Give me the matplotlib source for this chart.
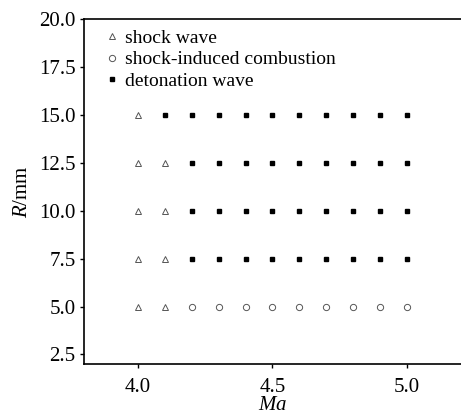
import numpy as np
import matplotlib
matplotlib.use('Agg')
import matplotlib.pyplot as plt

plt.rcParams['font.family'] = ['Liberation Serif', 'DejaVu Serif']
plt.rcParams['mathtext.fontset'] = 'custom'
plt.rcParams['mathtext.it'] = 'Liberation Serif:italic'
plt.rcParams['mathtext.rm'] = 'Liberation Serif'

# data
ma_shock = [4.0, 4.0, 4.0, 4.0, 4.0, 4.1, 4.1, 4.1, 4.1]
r_shock = [5.0, 7.5, 10.0, 12.5, 15.0, 5.0, 7.5, 10.0, 12.5]

ma_comb = [4.2, 4.3, 4.4, 4.5, 4.6, 4.7, 4.8, 4.9, 5.0]
r_comb = [5.0] * 9

ma_det_cols = [4.1, 4.2, 4.3, 4.4, 4.5, 4.6, 4.7, 4.8, 4.9, 5.0]
ma_det = [4.1]
r_det = [15.0]
for m in ma_det_cols[1:]:
    for r in [7.5, 10.0, 12.5, 15.0]:
        ma_det.append(m)
        r_det.append(r)

xticks = [4.0, 4.5, 5.0]
yticks = [2.5, 5.0, 7.5, 10.0, 12.5, 15.0, 17.5, 20.0]

fig = plt.figure(figsize=(4.61, 4.17), dpi=100)
ax = fig.add_axes([0.182, 0.127, 0.818, 0.827])

ax.plot(ma_shock, r_shock, linestyle='none', marker='^', markersize=5,
        markerfacecolor='none', markeredgecolor='#555555', markeredgewidth=0.7,
        label='shock wave')
ax.plot(ma_comb, r_comb, linestyle='none', marker='o', markersize=4.5,
        markerfacecolor='none', markeredgecolor='#555555', markeredgewidth=0.7,
        label='shock-induced combustion')
ax.plot(ma_det, r_det, linestyle='none', marker='s', markersize=3.5,
        color='black', label='detonation wave')

ax.set_xlim(3.8, 5.2)
ax.set_ylim(2.0, 20.0)
ax.set_xticks(xticks)
ax.set_xticklabels(['%.1f' % t for t in xticks])
ax.set_yticks(yticks)
ax.set_yticklabels(['%.1f' % t for t in yticks])
ax.tick_params(labelsize=15, direction='out', length=3, width=1)
ax.tick_params(axis='x', pad=7)
ax.tick_params(axis='y', pad=3)
ax.spines['right'].set_visible(False)
for s in ['left', 'bottom', 'top']:
    ax.spines[s].set_linewidth(1.2)

ax.set_xlabel(r'$Ma$', fontsize=15, labelpad=-1)
ax.set_ylabel(r'$R$/mm', fontsize=15, labelpad=5)

ax.legend(loc='upper left', frameon=False, fontsize=14, handletextpad=0.2,
          handlelength=1.0, labelspacing=0.22, borderaxespad=0.1,
          bbox_to_anchor=(0.022, 1.0))

fig.savefig('out.png', dpi=100)
